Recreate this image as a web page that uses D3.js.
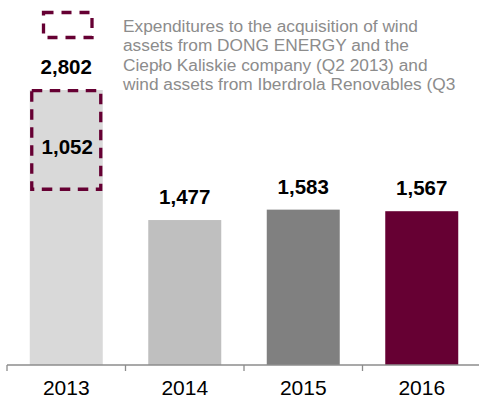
<!DOCTYPE html>
<html>
<head>
<meta charset="utf-8">
<script src="https://cdn.jsdelivr.net/npm/d3@7"></script>
<style>
  html, body { margin: 0; padding: 0; background: #fff; }
  svg { display: block; font-family: "Liberation Sans", Arial, sans-serif; }
</style>
</head>
<body>
<svg id="chart" width="479" height="398"></svg>
<script>
// Capital expenditures by year
const years = ["2013", "2014", "2015", "2016"];
const values = [2802, 1477, 1583, 1567];
const barColors = ["#d9d9d9", "#bfbfbf", "#808080", "#660033"];

// Acquisition spending included in the 2013 total
const acquisitionYear = "2013";
const acquisitionValue = 1052;

const legendLines = [
  "Expenditures to the acquisition of wind",
  "assets from DONG ENERGY and the",
  "Ciepło Kaliskie company (Q2 2013) and",
  "wind assets from Iberdrola Renovables (Q3"
];

const fmt = d3.format(",");
const accent = "#660033";

const svg = d3.select("#chart");
const baseY = 365;

const x = d3.scaleBand()
  .domain(years)
  .range([7, 481])
  .paddingInner(0.384)
  .paddingOuter(0.192);

const y = d3.scaleLinear()
  .domain([0, 2802])
  .range([baseY, 90]);

// Bars
svg.append("g").selectAll("rect")
  .data(years)
  .join("rect")
  .attr("x", d => x(d))
  .attr("y", (d, i) => y(values[i]))
  .attr("width", x.bandwidth())
  .attr("height", (d, i) => baseY - y(values[i]))
  .attr("fill", (d, i) => barColors[i]);

// Dashed outline marking the acquisition part of the 2013 bar
const accIdx = years.indexOf(acquisitionYear);
const accTop = y(values[accIdx]) + 0.7;
const accBottom = y(values[accIdx] - acquisitionValue) - 4;
svg.append("rect")
  .attr("x", x(acquisitionYear) + 2)
  .attr("y", accTop)
  .attr("width", x.bandwidth() - 4)
  .attr("height", accBottom - accTop)
  .attr("fill", "none")
  .attr("stroke", accent)
  .attr("stroke-width", 3.3)
  .attr("stroke-dasharray", "10.5,7.5");

svg.append("text")
  .attr("x", x(acquisitionYear) + x.bandwidth() / 2 + 1)
  .attr("y", (accTop + accBottom) / 2 + 14)
  .attr("text-anchor", "middle")
  .attr("font-size", 20.5)
  .attr("font-weight", "bold")
  .attr("fill", "#000")
  .text(fmt(acquisitionValue));

// Value labels above bars
svg.append("g").selectAll("text")
  .data(years)
  .join("text")
  .attr("x", d => x(d) + x.bandwidth() / 2)
  .attr("y", (d, i) => y(values[i]) - 16)
  .attr("text-anchor", "middle")
  .attr("font-size", 20.5)
  .attr("font-weight", "bold")
  .attr("fill", "#000")
  .text((d, i) => fmt(values[i]));

// Category axis with ticks at band boundaries
const axisColor = "#8c8c8c";
svg.append("line")
  .attr("x1", 7).attr("x2", 479)
  .attr("y1", baseY).attr("y2", baseY)
  .attr("stroke", axisColor)
  .attr("stroke-width", 1.3);

const boundaries = years.map(d => x(d) - x.step() * x.paddingInner() / 2);
svg.append("g").selectAll("line")
  .data(boundaries)
  .join("line")
  .attr("x1", d => d).attr("x2", d => d)
  .attr("y1", baseY).attr("y2", baseY + 6)
  .attr("stroke", axisColor)
  .attr("stroke-width", 1.3);

svg.append("g").selectAll("text")
  .data(years)
  .join("text")
  .attr("x", d => x(d) + x.bandwidth() / 2)
  .attr("y", 395)
  .attr("text-anchor", "middle")
  .attr("font-size", 21)
  .attr("fill", "#000")
  .text(d => d);

// Legend
svg.append("rect")
  .attr("x", 43.5).attr("y", 12.5)
  .attr("width", 48.5).attr("height", 25)
  .attr("fill", "none")
  .attr("stroke", accent)
  .attr("stroke-width", 3.3)
  .attr("stroke-dasharray", "10,8");

svg.append("g").selectAll("text")
  .data(legendLines)
  .join("text")
  .attr("x", 123)
  .attr("y", (d, i) => 31.7 + i * 19.4)
  .attr("font-size", 17.3)
  .attr("fill", "#8c8c8c")
  .text(d => d);
</script>
</body>
</html>
